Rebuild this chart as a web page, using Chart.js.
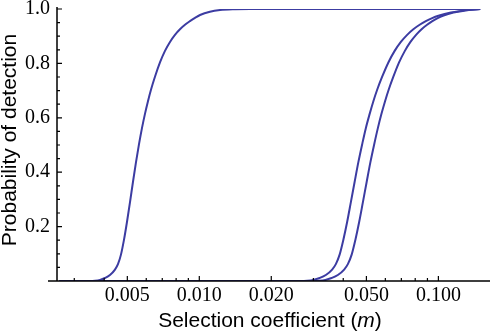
<!DOCTYPE html>
<html>
<head>
<meta charset="utf-8">
<script src="https://cdn.jsdelivr.net/npm/chart.js@4"></script>
<style>
  html, body { margin: 0; padding: 0; background: #fff; }
  #wrap { width: 490px; height: 333px; }
</style>
</head>
<body>
<div id="wrap"><canvas id="grafico"></canvas></div>
<script>
// tick values
const xMajor = [0.005, 0.01, 0.02, 0.05, 0.1];
const xMinor = [0.003, 0.004, 0.006, 0.007, 0.008, 0.009, 0.03, 0.04, 0.06, 0.07, 0.08, 0.09];
const yMajor = [0.2, 0.4, 0.6, 0.8, 1.0];
const yMinor = [0.05, 0.1, 0.15, 0.25, 0.3, 0.35, 0.45, 0.5, 0.55, 0.65, 0.7, 0.75, 0.85, 0.9, 0.95];

// curve 1 (left)
const m1 = [0.0026, 0.003489, 0.003662, 0.003842, 0.004031, 0.00423, 0.004439, 0.004569, 0.004703, 0.004841,
            0.004983, 0.005129, 0.005279, 0.005434, 0.005593, 0.005757, 0.005926, 0.0061, 0.006279, 0.006525,
            0.006848, 0.007186, 0.007541, 0.007911, 0.008302, 0.008711, 0.009143, 0.009594, 0.01007, 0.01108,
            0.01221, 0.01411, 0.0163, 0.1496];
const p1 = [0, 0, 0.001, 0.004, 0.011, 0.022, 0.042, 0.062, 0.097, 0.151,
            0.217, 0.289, 0.364, 0.436, 0.502, 0.562, 0.6145, 0.661, 0.703, 0.751,
            0.8035, 0.846, 0.879, 0.905, 0.9255, 0.942, 0.9555, 0.9675, 0.978, 0.990,
            0.996, 0.999, 1.0, 1.0];

// curve 2 (middle)
const m2 = [0.0026, 0.02659, 0.02825, 0.02999, 0.03187, 0.03383, 0.03594, 0.03725, 0.03863, 0.04003,
            0.04153, 0.04303, 0.04463, 0.04625, 0.04798, 0.04972, 0.0516, 0.05347, 0.05546, 0.0582,
            0.06178, 0.06564, 0.06967, 0.07403, 0.07858, 0.08349, 0.08862, 0.09419, 0.1, 0.1128,
            0.1272, 0.1496];
const p2 = [0, 0, 0.001, 0.004, 0.011, 0.022, 0.042, 0.062, 0.097, 0.151,
            0.217, 0.289, 0.364, 0.436, 0.502, 0.562, 0.6145, 0.661, 0.703, 0.751,
            0.8035, 0.846, 0.879, 0.905, 0.9255, 0.942, 0.9555, 0.9665, 0.975, 0.987,
            0.994, 1.0];

// curve 3 (right)
const m3 = [0.0026, 0.0299, 0.03168, 0.03367, 0.03577, 0.03798, 0.04035, 0.04182, 0.04338, 0.04495,
            0.04663, 0.04832, 0.05012, 0.05194, 0.05388, 0.05583, 0.0578, 0.05984, 0.06195, 0.06482,
            0.06848, 0.07242, 0.07643, 0.08067, 0.08506, 0.08969, 0.09439, 0.09933, 0.1044, 0.1156,
            0.1287, 0.1496];
const p3 = p2.slice();

const lineColor = '#3c3ca2';

function toPoints(xs, ys) {
    return xs.map((x, i) => ({ x: x, y: ys[i] }));
}

function curve(xs, ys) {
    return {
        data: toPoints(xs, ys),
        borderColor: lineColor,
        borderWidth: 2,
        pointRadius: 0,
        fill: false,
        cubicInterpolationMode: 'monotone'
    };
}

// axes, inward ticks and titles drawn on top of the curves
const axesPlugin = {
    id: 'axesPlugin',
    afterDatasetsDraw(chart) {
        const ctx = chart.ctx;
        const a = chart.chartArea;
        const xs = chart.scales.x;
        const ys = chart.scales.y;
        ctx.save();
        ctx.strokeStyle = '#000';
        ctx.lineWidth = 1.5;
        ctx.beginPath();
        ctx.moveTo(a.left - 9, a.bottom);
        ctx.lineTo(a.right, a.bottom);
        ctx.moveTo(a.left, a.bottom);
        ctx.lineTo(a.left, a.top - 2);
        ctx.stroke();

        ctx.lineWidth = 1.2;
        ctx.beginPath();
        xMajor.forEach(v => { const px = xs.getPixelForValue(v); ctx.moveTo(px, a.bottom); ctx.lineTo(px, a.bottom - 5); });
        xMinor.forEach(v => { const px = xs.getPixelForValue(v); ctx.moveTo(px, a.bottom); ctx.lineTo(px, a.bottom - 3); });
        yMajor.forEach(v => { const py = ys.getPixelForValue(v); ctx.moveTo(a.left, py); ctx.lineTo(a.left + 5, py); });
        yMinor.forEach(v => { const py = ys.getPixelForValue(v); ctx.moveTo(a.left, py); ctx.lineTo(a.left + 3, py); });
        ctx.stroke();

        // x title with italic m
        ctx.fillStyle = '#000';
        ctx.textBaseline = 'alphabetic';
        ctx.textAlign = 'left';
        const fReg = '21px "Liberation Sans", Arial, sans-serif';
        const fIt = 'italic 21px "Liberation Sans", Arial, sans-serif';
        const t1 = 'Selection coefficient (', t2 = 'm', t3 = ')';
        ctx.font = fReg; const w1 = ctx.measureText(t1).width; const w3 = ctx.measureText(t3).width;
        ctx.font = fIt; const w2 = ctx.measureText(t2).width;
        let x0 = 270 - (w1 + w2 + w3) / 2;
        const yb = 327;
        ctx.font = fReg; ctx.fillText(t1, x0, yb);
        ctx.font = fIt; ctx.fillText(t2, x0 + w1, yb);
        ctx.font = fReg; ctx.fillText(t3, x0 + w1 + w2, yb);

        // y title
        ctx.translate(16, 140);
        ctx.rotate(-Math.PI / 2);
        ctx.textAlign = 'center';
        ctx.font = fReg;
        ctx.fillText('Probability of detection', 0, 0);
        ctx.restore();
    }
};

const ctx = document.getElementById('grafico').getContext('2d');
const chart = new Chart(ctx, {
    type: 'line',
    data: {
        datasets: [curve(m1, p1), curve(m2, p2), curve(m3, p3)]
    },
    options: {
        responsive: true,
        maintainAspectRatio: false,
        animation: false,
        layout: { padding: { top: 9, right: 0, left: 0, bottom: 0 } },
        plugins: {
            legend: { display: false },
            tooltip: { enabled: false }
        },
        scales: {
            x: {
                type: 'logarithmic',
                min: 0.00254,
                max: 0.1644,
                grid: { display: false, drawTicks: false },
                border: { display: false },
                afterBuildTicks: scale => { scale.ticks = xMajor.map(v => ({ value: v })); },
                afterFit: scale => { scale.height = 52; scale.paddingLeft = 0; scale.paddingRight = 0; },
                ticks: {
                    autoSkip: false,
                    maxRotation: 0,
                    padding: 3,
                    color: '#000',
                    font: { family: '"Liberation Serif", serif', size: 20 },
                    callback: v => Number(v).toFixed(3)
                }
            },
            y: {
                min: 0,
                max: 1,
                grid: { display: false, drawTicks: false },
                border: { display: false },
                afterBuildTicks: scale => { scale.ticks = yMajor.map(v => ({ value: v })); },
                afterFit: scale => { scale.width = 57; scale.paddingTop = 0; scale.paddingBottom = 0; },
                ticks: {
                    padding: 7,
                    color: '#000',
                    font: { family: '"Liberation Serif", serif', size: 20 },
                    callback: v => Number(v).toFixed(1)
                }
            }
        }
    },
    plugins: [axesPlugin]
});
</script>
</body>
</html>
